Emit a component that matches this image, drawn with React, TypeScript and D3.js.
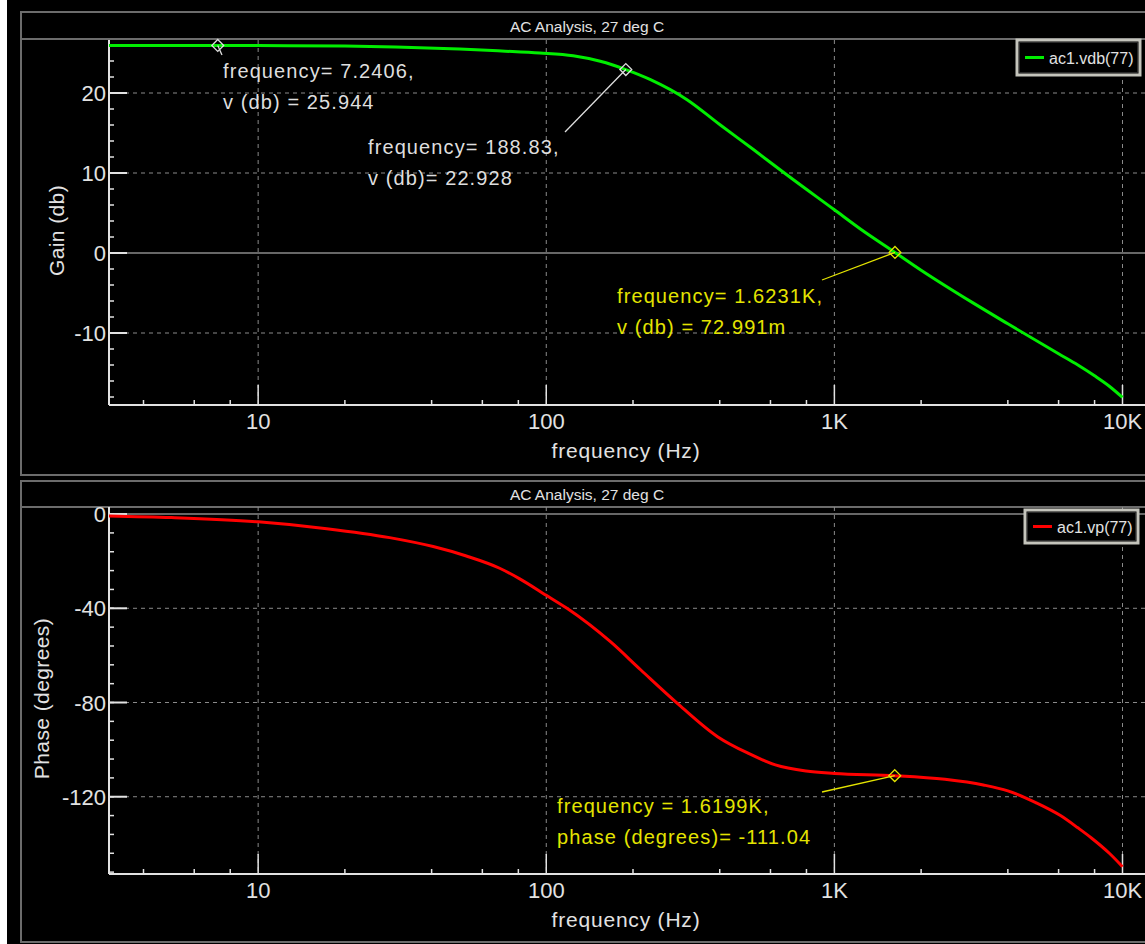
import React from "react";
import * as d3 from "d3";

// ---- data ----
const freqMajor = [10, 100, 1000, 10000];
const freqMajorLabels = ["10", "100", "1K", "10K"];
const freqMinor = [4, 6, 8, 20, 40, 60, 80, 200, 400, 600, 800, 2000, 4000, 6000, 8000];

const gainFreq = [3, 5, 7.2406, 10, 20, 30, 50, 70, 95, 124, 154, 188.83, 230, 308, 402, 525, 685, 1000, 1231, 1623.1, 2000, 3048, 4000, 6000, 7000, 8000, 9000, 10000];
const gainDb = [25.95, 25.948, 25.944, 25.93, 25.86, 25.76, 25.5, 25.25, 25.0, 24.65, 23.96, 22.928, 21.67, 19.17, 16.0, 12.9, 9.75, 5.4, 3.0, 0.073, -2.15, -6.3, -8.85, -12.6, -14.0, -15.35, -16.65, -18.05];

const phaseFreq = [3, 5, 10, 17.3, 28.6, 40.5, 52.8, 68.9, 80.9, 100, 118, 167, 213, 289, 393, 503, 624, 798, 1000, 1619.9, 2420, 3290, 4000, 5000, 6090, 7000, 7800, 9000, 10000];
const phaseDeg = [-0.8, -1.5, -3.3, -6.2, -10, -13.8, -17.8, -23.0, -27.5, -34.5, -40, -54.2, -66.2, -81, -94.5, -101.6, -106.5, -109.1, -110.1, -111.04, -112.6, -115, -117.5, -122.5, -128, -133.2, -137.5, -144, -149.7];

const gainTicks = [20, 10, 0, -10];
const phaseTicks = [0, -40, -80, -120];

const gainMarkFreq = [7.2406, 188.83, 1623.1];
const gainMarkVal = [25.944, 22.928, 0.072991];
const gainMarkText = [
  ["frequency= 7.2406,", "v (db) = 25.944"],
  ["frequency= 188.83,", "v (db)= 22.928"],
  ["frequency= 1.6231K,", "v (db) = 72.991m"],
];
const phaseMarkFreq = [1619.9];
const phaseMarkVal = [-111.04];
const phaseMarkText = [["frequency = 1.6199K,", "phase (degrees)= -111.04"]];

const W = 1145;
const H = 944;
const FONT = "'Liberation Sans', Arial, Helvetica, sans-serif";
const FG = "#e2e2e2";
const GRID = "#8a8a8a";
const FRAME = "#6c6c6c";
const YELLOW = "#e4e400";

const x = d3.scaleLog().domain([3, 10000]).range([107.5, 1122.5]);

type Mark = { f: number; v: number; lines: string[]; color: string; tx: number; ty: number; lx: number; ly: number };

type PanelProps = {
  id: string;
  frameTop: number;
  frameBottom: number;
  titleBottom: number;
  plotTop: number;
  plotBottom: number;
  yDomain: [number, number];
  majors: number[];
  minorStep: number;
  yTitle: string;
  yTitleX: number;
  freq: number[];
  vals: number[];
  color: string;
  legend: string;
  legendBox: [number, number, number, number];
  marks: Mark[];
};

function Panel(p: PanelProps) {
  const left = 109;
  const y = d3.scaleLinear().domain(p.yDomain).range([p.plotBottom, p.plotTop]);
  const minors = d3.range(Math.ceil(p.yDomain[0] / p.minorStep) * p.minorStep, p.yDomain[1], p.minorStep);
  const pts = p.freq.map((f, i) => [f, p.vals[i]] as [number, number]);
  const line = d3.line<[number, number]>().x(d => x(d[0])).y(d => y(d[1])).curve(d3.curveMonotoneX);
  const diamond = d3.symbol(d3.symbolDiamond2, 90)()!;
  const [lx, ly, lw, lh] = p.legendBox;
  const titleY = (p.frameTop + p.titleBottom) / 2 + 6;
  return (
    <g>
      <defs>
        <clipPath id={p.id}>
          <rect x={left} y={p.plotTop} width={W - left} height={p.plotBottom - p.plotTop} />
        </clipPath>
      </defs>
      <rect x={21} y={p.frameTop} width={W} height={p.frameBottom - p.frameTop} fill="none" stroke={FRAME} strokeWidth={2} />
      <line x1={21} x2={W} y1={p.titleBottom} y2={p.titleBottom} stroke={FRAME} strokeWidth={2} />
      <text x={587} y={titleY} fill={FG} fontSize={15.5} textAnchor="middle" fontFamily={FONT}>AC Analysis, 27 deg C</text>

      {/* grid */}
      {freqMajor.map(f => (
        <line key={"vg" + f} x1={x(f)} x2={x(f)} y1={p.plotTop} y2={p.plotBottom} stroke={GRID} strokeDasharray="4,4" />
      ))}
      {p.majors.map(v => (
        <line key={"hg" + v} x1={left} x2={W} y1={y(v)} y2={y(v)} stroke={GRID} strokeWidth={v === 0 ? 1.5 : 1} strokeDasharray={v === 0 ? undefined : "4,4"} />
      ))}

      {/* axes */}
      <line x1={left} x2={left} y1={p.plotTop} y2={p.plotBottom} stroke={FG} strokeWidth={2} />
      <line x1={left} x2={W} y1={p.plotBottom} y2={p.plotBottom} stroke={FG} strokeWidth={2} />
      {minors.map(v => (
        <line key={"ym" + v} x1={left} x2={left + 5} y1={y(v)} y2={y(v)} stroke={FG} strokeWidth={1.5} />
      ))}
      {p.majors.map(v => (
        <g key={"yt" + v}>
          <line x1={left} x2={left + 18} y1={y(v)} y2={y(v)} stroke={FG} strokeWidth={2} />
          <text x={106} y={y(v) + 8} fill={FG} fontSize={22} textAnchor="end" fontFamily={FONT}>{v}</text>
        </g>
      ))}
      {freqMinor.map(f => (
        <line key={"xm" + f} x1={x(f)} x2={x(f)} y1={p.plotBottom} y2={p.plotBottom - 5} stroke={FG} strokeWidth={1.5} />
      ))}
      {freqMajor.map((f, i) => (
        <g key={"xt" + f}>
          <line x1={x(f)} x2={x(f)} y1={p.plotBottom} y2={p.plotBottom - 20} stroke={FG} strokeWidth={1.5} />
          <text x={x(f)} y={p.plotBottom + 24} fill={FG} fontSize={22} textAnchor="middle" fontFamily={FONT}>{freqMajorLabels[i]}</text>
        </g>
      ))}
      <text x={626} y={p.plotBottom + 53} fill={FG} fontSize={21} letterSpacing={0.8} textAnchor="middle" fontFamily={FONT}>frequency (Hz)</text>
      <text transform={`translate(${p.yTitleX},${(p.plotTop + p.plotBottom) / 2 + 8}) rotate(-90)`} fill={FG} fontSize={21} letterSpacing={0.4} textAnchor="middle" dy="0.35em" fontFamily={FONT}>{p.yTitle}</text>

      {/* curve */}
      <path d={line(pts)!} fill="none" stroke={p.color} strokeWidth={3} clipPath={`url(#${p.id})`} />

      {/* markers */}
      {p.marks.map((m, i) => {
        const mx = x(m.f);
        const my = y(m.v);
        return (
          <g key={"mk" + i}>
            <line x1={mx} y1={my} x2={m.lx} y2={m.ly} stroke={m.color} strokeWidth={1.3} />
            <path d={diamond} transform={`translate(${mx},${my})`} fill="none" stroke={m.color} strokeWidth={1.3} />
            {m.lines.map((t, j) => (
              <text key={j} x={m.tx} y={m.ty + j * 31} fill={m.color} fontSize={20} letterSpacing={1.1} fontFamily={FONT}>{t}</text>
            ))}
          </g>
        );
      })}

      {/* legend */}
      <rect x={lx} y={ly} width={lw} height={lh} fill="#000" stroke="#c4c4bc" strokeWidth={3} />
      <rect x={lx + 2.5} y={ly + 2.5} width={lw - 5} height={lh - 5} fill="none" stroke="#2a2a2a" strokeWidth={1} />
      <line x1={lx + 8} x2={lx + 27} y1={ly + lh / 2} y2={ly + lh / 2} stroke={p.color} strokeWidth={3} />
      <text x={lx + 32} y={ly + lh / 2 + 6} fill={FG} fontSize={16} fontFamily={FONT}>{p.legend}</text>
    </g>
  );
}

export default function App() {
  const gainMarks: Mark[] = gainMarkFreq.map((f, i) => ({
    f,
    v: gainMarkVal[i],
    lines: gainMarkText[i],
    color: i === 2 ? YELLOW : "#dedede",
    tx: [223, 368, 617][i],
    ty: [78, 154, 303][i],
    lx: [222, 565, 822][i],
    ly: [55, 132, 280][i],
  }));
  const phaseMarks: Mark[] = phaseMarkFreq.map((f, i) => ({
    f,
    v: phaseMarkVal[i],
    lines: phaseMarkText[i],
    color: YELLOW,
    tx: 557,
    ty: 813,
    lx: 822,
    ly: 792,
  }));
  return (
    <svg width={W} height={H} style={{ position: "absolute", left: 0, top: 0, display: "block" }}>
      <rect x={7} y={0} width={W - 7} height={H} fill="#000" />
      <Panel
        id="clipGain"
        frameTop={12}
        frameBottom={475}
        titleBottom={39}
        plotTop={40}
        plotBottom={405}
        yDomain={[-19, 26.625]}
        majors={gainTicks}
        minorStep={2}
        yTitle="Gain (db)"
        yTitleX={57}
        freq={gainFreq}
        vals={gainDb}
        color="#00ee00"
        legend="ac1.vdb(77)"
        legendBox={[1017, 40, 123, 35]}
        marks={gainMarks}
      />
      <Panel
        id="clipPhase"
        frameTop={481}
        frameBottom={942}
        titleBottom={507}
        plotTop={507}
        plotBottom={874}
        yDomain={[-152.8, 3.0]}
        majors={phaseTicks}
        minorStep={8}
        yTitle="Phase (degrees)"
        yTitleX={42}
        freq={phaseFreq}
        vals={phaseDeg}
        color="#ff0000"
        legend="ac1.vp(77)"
        legendBox={[1025, 510, 113, 33]}
        marks={phaseMarks}
      />
    </svg>
  );
}
